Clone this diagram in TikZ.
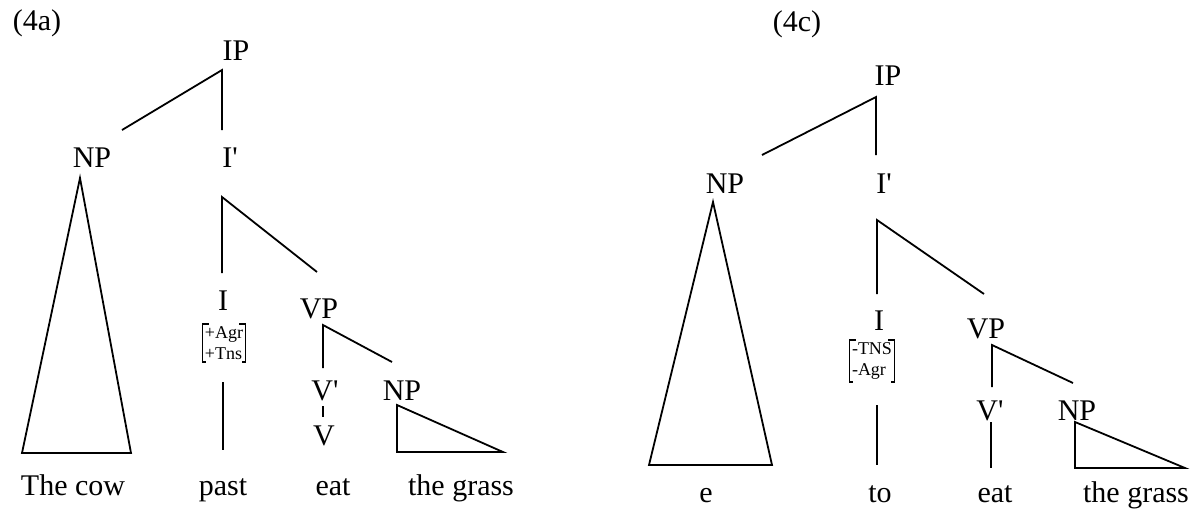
\documentclass[tikz,border=0pt]{standalone}
\usepackage{fontspec}
\setmainfont{Liberation Serif}
\usetikzlibrary{positioning}

\tikzset{
  cat/.style={font=\fontsize{15}{18}\selectfont, inner sep=0pt, anchor=base},
  feat/.style={font=\fontsize{9}{10.5}\selectfont, inner sep=1pt, align=left},
  branch/.style={line width=0.9pt, line join=miter},
}
% square brackets round a feature node
\newcommand{\featbrackets}[1]{%
  \draw[line width=0.8pt] ([xshift=3]#1.north west) -| (#1.south west) -- ++(3,0);
  \draw[line width=0.8pt] ([xshift=-3]#1.north east) -| (#1.south east) -- ++(-3,0);}

\begin{document}
\begin{tikzpicture}[x=0.5pt, y=-0.5pt]
\useasboundingbox (0,0) rectangle (1195,510);

% (4a)
\node[cat] (labelA) at (37,30) {(4a)};
\node[cat] (ipA) at (236,60) {IP};
\node[cat] (npA) at (92,167) {NP};
\node[cat] (ibarA) at (230,167) {I\textquotesingle};
\node[cat] (iA) at (223,310) {I};
\node[feat] (featA) at (224,343) {+Agr\\+Tns};
\node[cat] (vpA) at (319,318) {VP};
\node[cat] (vbarA) at (325,400) {V\textquotesingle};
\node[cat] (vA) at (324,445) {V};
\node[cat] (objA) at (402,400) {NP};
\node[cat] (cowA) at (73,495) {The cow};
\node[cat] (pastA) at (223,495) {past};
\node[cat] (eatA) at (333,495) {eat};
\node[cat] (grassA) at (461,495) {the grass};
\featbrackets{featA}

\coordinate (ipA-top) at (222,70);
\coordinate (ipA-l) at (122,130);
\coordinate (ipA-r) at (222,130);
\coordinate (ibarA-top) at (222,197);
\coordinate (ibarA-l) at (222,273);
\coordinate (ibarA-r) at (317,272);
\coordinate (vpA-top) at (323,325);
\coordinate (vpA-l) at (323,368);
\coordinate (vpA-r) at (392,362);
\draw[branch] (ipA-l) -- (ipA-top) -- (ipA-r);
\draw[branch] (ibarA-l) -- (ibarA-top) -- (ibarA-r);
\draw[branch] (vpA-l) -- (vpA-top) -- (vpA-r);
\draw[branch] (223,382) coordinate (featA-low) -- (223,450) coordinate (pastA-top);
\draw[branch] (323,406) coordinate (vbarA-low) -- (323,417) coordinate (vA-top);
\draw[branch] (80,178) coordinate (cowA-apex) -- (22,453) -- (131,453) -- cycle;
\draw[branch] (397,405) coordinate (grassA-apex) -- (397,452) -- (503,452) -- cycle;

% (4c)
\node[cat] (labelC) at (797,31) {(4c)};
\node[cat] (ipC) at (888,85) {IP};
\node[cat] (npC) at (725,193) {NP};
\node[cat] (ibarC) at (884,193) {I\textquotesingle};
\node[cat] (iC) at (879,330) {I};
\node[feat] (featC) at (872,361) {-TNS\\-Agr};
\node[cat] (vpC) at (986,338) {VP};
\node[cat] (vbarC) at (990,420) {V\textquotesingle};
\node[cat] (objC) at (1077,420) {NP};
\node[cat] (eC) at (706,502) {e};
\node[cat] (toC) at (880,502) {to};
\node[cat] (eatC) at (995,502) {eat};
\node[cat] (grassC) at (1136,502) {the grass};
\featbrackets{featC}

\coordinate (ipC-top) at (876,97);
\coordinate (ipC-l) at (762,155);
\coordinate (ipC-r) at (876,155);
\coordinate (ibarC-top) at (877,220);
\coordinate (ibarC-l) at (877,294);
\coordinate (ibarC-r) at (984,294);
\coordinate (vpC-top) at (992,345);
\coordinate (vpC-l) at (992,387);
\coordinate (vpC-r) at (1073,383);
\draw[branch] (ipC-l) -- (ipC-top) -- (ipC-r);
\draw[branch] (ibarC-l) -- (ibarC-top) -- (ibarC-r);
\draw[branch] (vpC-l) -- (vpC-top) -- (vpC-r);
\draw[branch] (877,405) coordinate (featC-low) -- (877,465) coordinate (toC-top);
\draw[branch] (991,422) coordinate (vbarC-low) -- (991,468) coordinate (eatC-top);
\draw[branch] (713,202) coordinate (eC-apex) -- (649,465) -- (772,465) -- cycle;
\draw[branch] (1075,422) coordinate (grassC-apex) -- (1075,468) -- (1185,468) -- cycle;
\end{tikzpicture}
\end{document}
